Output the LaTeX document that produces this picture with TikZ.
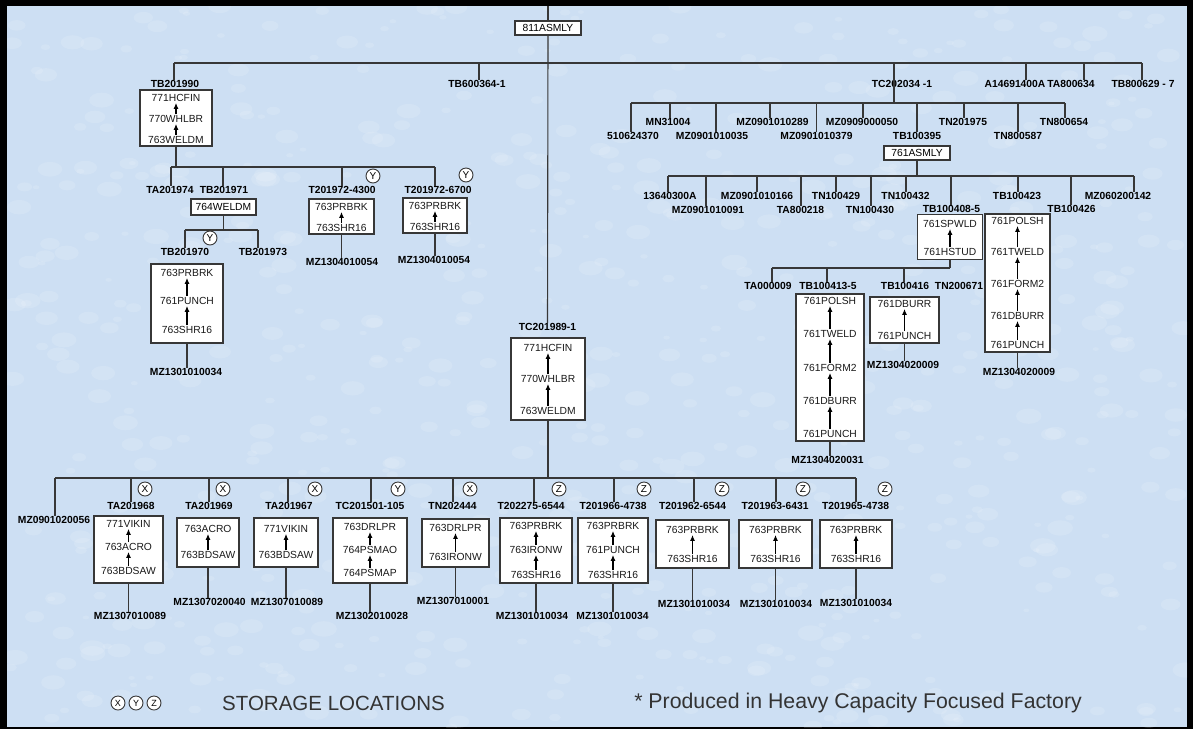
\documentclass[tikz,border=0pt]{standalone}
\usepackage{fontspec}
\setmainfont{Liberation Sans}
\usetikzlibrary{arrows.meta}
\definecolor{bg_blue}{RGB}{205,223,243}
\definecolor{line_gray}{RGB}{55,55,55}
\tikzset{
  link/.style={line_gray, line width=1.1pt},
  partno/.style={font=\fontsize{10.3}{12}\selectfont\bfseries, inner sep=0pt, text=black},
  optext/.style={font=\fontsize{10.3}{12}\selectfont, inner sep=1pt, text=black!90},
  opframe/.style={draw=line_gray, line width=1.2pt, fill=white, inner sep=2pt,
                  font=\fontsize{10.3}{12}\selectfont},
  oparrow/.style={-{Latex[length=6pt,width=5pt]}, line width=1.3pt, black},
  stock/.style={circle, draw=line_gray, line width=0.9pt, fill=white, minimum size=14pt,
                inner sep=0pt, font=\fontsize{10}{12}\selectfont}
}
\newcommand{\opbox}[6]{% #1 = Name, #2 = x, #3 = y, #4 = Breite, #5 = Hoehe, #6 = Liste y/Arbeitsplatz
  \node[opframe, minimum width=#4pt, minimum height=#5pt] (#1) at (#2,#3) {};
  \foreach \opy/\optxt [count=\opi, remember=\opi as \oplast (initially 0)] in {#6} {
    \node[optext] (#1-\opi) at (#2,\opy) {\optxt};
    \ifnum\opi>1
      \draw[oparrow] (#1-\opi.north) -- (#1-\oplast.south);
    \fi
  }
}
\begin{document}
\begin{tikzpicture}[x=1pt, y={(0pt,-1pt)}]
  \useasboundingbox (0,0) rectangle (1193,729);
  \fill[black] (0,0) rectangle (1193,729);
  \fill[bg_blue] (7,6) rectangle (1187,727);
  \begin{scope}
    \clip (7,6) rectangle (1187,727);
    \pgfmathsetseed{4711}
    \foreach \i in {1,...,700} {
      \pgfmathsetmacro{\tx}{7+1180*rnd}
      \pgfmathsetmacro{\ty}{6+721*rnd}
      \pgfmathsetmacro{\tr}{3+10*rnd}
      \fill[white, opacity=0.13] (\tx,\ty) ellipse ({\tr pt} and {0.6*\tr pt});
    }
  \end{scope}

  % Endprodukt
  \coordinate (topedge) at (548,6);
  \node[opframe, minimum width=66pt, minimum height=14pt, inner sep=0pt] (asm811) at (548,28) {811ASMLY};
  \node[partno] (tc1989) at (547.5,327) {TC201989-1};
  \draw[link] (topedge) -- (asm811.north);
  \draw[link] (asm811.south) -- (tc1989.north);

  % erste Ebene
  \foreach \nm/\vx/\lx/\txt in {tb1990/174/175/TB201990, tb600/479/477/TB600364-1,
      tc2034/894/902/TC202034 -1, a1469/1026/1015/A14691400A,
      ta634/1084/1071/TA800634, tb629/1142/1143/TB800629 - 7} {
    \coordinate (j-\nm) at (\vx,63);
    \node[partno] (\nm) at (\lx,83.5) {\txt};
    \draw[link] (j-\nm) -- (j-\nm |- \nm.north);
  }
  \draw[link] (j-tb1990) -- (j-tb629);

  % TB201990
  \opbox{hc1990}{176}{118}{72}{56}{98/771HCFIN, 119/770WHLBR, 140/763WELDM}
  \coordinate (k-hc1990) at (176,167);
  \draw[link] (hc1990.south) -- (k-hc1990);
  \foreach \nm/\vx/\lx/\txt in {ta974/171/170/TA201974, tb971/223/224/TB201971,
      t4300/342/342/T201972-4300, t6700/435/438/T201972-6700} {
    \coordinate (j-\nm) at (\vx,167);
    \node[partno] (\nm) at (\lx,190) {\txt};
    \draw[link] (j-\nm) -- (j-\nm |- \nm.north);
  }
  \draw[link] (j-ta974) -- (j-t6700);
  \node[stock] (s-t4300) at (373,176) {Y};
  \node[stock] (s-t6700) at (466,175) {Y};

  \node[opframe, minimum width=65pt, minimum height=16pt, inner sep=0pt] (ws764) at (223.5,207) {764WELDM};
  \coordinate (k-ws764) at (223.5,230);
  \draw[link] (ws764.south) -- (k-ws764);
  \foreach \nm/\vx/\lx/\txt in {tb970/185/185/TB201970, tb973/258/263/TB201973} {
    \coordinate (j-\nm) at (\vx,230);
    \node[partno] (\nm) at (\lx,252) {\txt};
    \draw[link] (j-\nm) -- (j-\nm |- \nm.north);
  }
  \draw[link] (j-tb970) -- (j-tb973);
  \node[stock] (s-tb970) at (210,238) {Y};

  \opbox{pu970}{187}{303.5}{72}{79}{273/763PRBRK, 301/761PUNCH, 330/763SHR16}
  \opbox{pb4300}{341.5}{216.5}{65}{35}{207/763PRBRK, 228/763SHR16}
  \opbox{pb6700}{435}{215.5}{64}{35}{206/763PRBRK, 227/763SHR16}

  % TC201989-1
  \opbox{hc1989}{548}{379}{74}{82}{348/771HCFIN, 379/770WHLBR, 411/763WELDM}
  \coordinate (k-hc1989) at (548,478);
  \draw[link] (hc1989.south) -- (k-hc1989);
  \coordinate (j-mz056) at (55,478);
  \node[partno] (mz056) at (54,520) {MZ0901020056};
  \draw[link] (j-mz056) -- (j-mz056 |- mz056.north);
  \foreach \nm/\vx/\lx/\sx/\sl/\txt in {ta968/131/131/145/X/TA201968,
      ta969/209/209/223/X/TA201969, ta967/288/289/315/X/TA201967,
      tc105/371/370/398/Y/TC201501-105, tn444/453/452.5/470/X/TN202444,
      t6544a/534/531/559/Z/T202275-6544, t4738a/614/613/644/Z/T201966-4738,
      t6544b/694/692.5/722/Z/T201962-6544, t6431/776/775/803/Z/T201963-6431,
      t4738b/856/855.5/885/Z/T201965-4738} {
    \coordinate (j-\nm) at (\vx,478);
    \node[partno] (\nm) at (\lx,506) {\txt};
    \node[stock] (s-\nm) at (\sx,489) {\sl};
    \draw[link] (j-\nm) -- (j-\nm |- \nm.north);
  }
  \draw[link] (j-mz056) -- (j-t4738b);

  \opbox{vk968}{128.5}{549.5}{69}{67}{524/771VIKIN, 547/763ACRO, 571/763BDSAW}
  \opbox{ac969}{208}{542.5}{62}{49}{529/763ACRO, 555/763BDSAW}
  \opbox{vk967}{286}{542.5}{64}{49}{529/771VIKIN, 555/763BDSAW}
  \opbox{dr105}{370}{550.5}{74}{65}{527/763DRLPR, 550/764PSMAO, 573/764PSMAP}
  \opbox{dr444}{455.5}{543}{67}{48}{528/763DRLPR, 557/763IRONW}
  \opbox{pb6544a}{536}{550.5}{72}{65}{526/763PRBRK, 550/763IRONW, 575/763SHR16}
  \opbox{pb4738a}{613}{550.5}{70}{65}{526/763PRBRK, 550/761PUNCH, 575/763SHR16}
  \opbox{pb6544b}{692.5}{544}{73}{48}{530/763PRBRK, 559/763SHR16}
  \opbox{pb6431}{775.5}{544}{73}{48}{530/763PRBRK, 559/763SHR16}
  \opbox{pb4738b}{856}{544}{72}{48}{530/763PRBRK, 559/763SHR16}

  % TC202034 -1
  \coordinate (k-tc2034) at (894,103);
  \draw[link] (j-tc2034) -- (k-tc2034);
  \foreach \nm/\vx/\lx/\ly/\txt in {m5106/631/633/136/510624370, mn31/670/668/122/MN31004,
      mz035/716/712/136/MZ0901010035, mz289/770/772.5/122/MZ0901010289,
      mz379/816.5/816.5/136/MZ0901010379, mz050/863/862/122/MZ0909000050,
      tb395/917/917/136/TB100395, tn975/964/963/122/TN201975,
      tn587/1018/1018/136/TN800587, tn654/1065/1064/122/TN800654} {
    \coordinate (j-\nm) at (\vx,103);
    \node[partno] (\nm) at (\lx,\ly) {\txt};
    \draw[link] (j-\nm) -- (j-\nm |- \nm.north);
  }
  \draw[link] (j-m5106) -- (j-tn654);

  \node[opframe, minimum width=66pt, minimum height=14pt, inner sep=0pt] (asm761) at (917,153) {761ASMLY};
  \coordinate (k-asm761) at (917,176);
  \draw[link] (asm761.south) -- (k-asm761);
  \foreach \nm/\vx/\lx/\ly/\txt in {c1364/668/670/196/13640300A, mz091/706/708/210/MZ0901010091,
      mz166/757/757/196/MZ0901010166, ta218/801/800.5/210/TA800218,
      tn429/836/836/196/TN100429, tn430/871/870/210/TN100430,
      tn432/906/905.5/196/TN100432, tb4085/951/951.5/209/TB100408-5,
      tb423/1018/1017/196/TB100423, tb426/1071/1071.5/209/TB100426,
      mz142/1134/1118/196/MZ060200142} {
    \coordinate (j-\nm) at (\vx,176);
    \node[partno] (\nm) at (\lx,\ly) {\txt};
    \draw[link] (j-\nm) -- (j-\nm |- \nm.north);
  }
  \draw[link] (j-c1364) -- (j-mz142);

  \opbox{sp4085}{950}{237}{65}{45}{224/761SPWLD, 252/761HSTUD}
  \coordinate (k-sp4085) at (950,268);
  \draw[link] (sp4085.south) -- (k-sp4085);
  \foreach \nm/\vx/\lx/\txt in {ta009/772/768/TA000009, tb4135/827/828/TB100413-5,
      tb416/904/905/TB100416} {
    \coordinate (j-\nm) at (\vx,268);
    \node[partno] (\nm) at (\lx,286) {\txt};
    \draw[link] (j-\nm) -- (j-\nm |- \nm.north);
  }
  \draw[link] (j-ta009) -- (k-sp4085);
  \node[partno] (tn671) at (959,286) {TN200671};

  \opbox{po4135}{830}{367.5}{68}{147}{301/761POLSH, 334/761TWELD, 368/761FORM2, 401/761DBURR, 434/761PUNCH}
  \opbox{db416}{904.5}{320}{69}{46}{304/761DBURR, 336/761PUNCH}
  \opbox{po423}{1017.5}{283}{65}{138}{221/761POLSH, 252/761TWELD, 284/761FORM2, 316/761DBURR, 345/761PUNCH}

  % Rohmaterial unter den Arbeitsplaenen
  \foreach \bx/\lx/\ly/\txt in {pu970/186/372/MZ1301010034, pb4300/342/262/MZ1304010054,
      pb6700/434/260/MZ1304010054, po4135/827.5/460/MZ1304020031,
      db416/903/365/MZ1304020009, po423/1019/372/MZ1304020009,
      vk968/130/616/MZ1307010089, ac969/209.5/602/MZ1307020040,
      vk967/287/602/MZ1307010089, dr105/372/616/MZ1302010028,
      dr444/453/601/MZ1307010001, pb6544a/532/616/MZ1301010034,
      pb4738a/612.5/616/MZ1301010034, pb6544b/694/604/MZ1301010034,
      pb6431/776/604/MZ1301010034, pb4738b/856/603/MZ1301010034} {
    \node[partno] (mz-\bx) at (\lx,\ly) {\txt};
    \draw[link] (\bx.south) -- (\bx.south |- mz-\bx.north);
  }

  % Legende
  \foreach \sl [count=\si] in {X,Y,Z}
    \node[stock, minimum size=14pt, font=\fontsize{9}{10}\selectfont] (key-\sl) at (100+18*\si,703) {\sl};
  \node[anchor=west, inner sep=0pt, font=\fontsize{20.5}{24}\selectfont, text=black!80] (keytext) at (222,703) {STORAGE LOCATIONS};
  \node[anchor=east, inner sep=0pt, font=\fontsize{21.3}{24}\selectfont, text=black!80] (hcff) at (1082,703) {* Produced in Heavy Capacity Focused Factory};
\end{tikzpicture}
\end{document}
